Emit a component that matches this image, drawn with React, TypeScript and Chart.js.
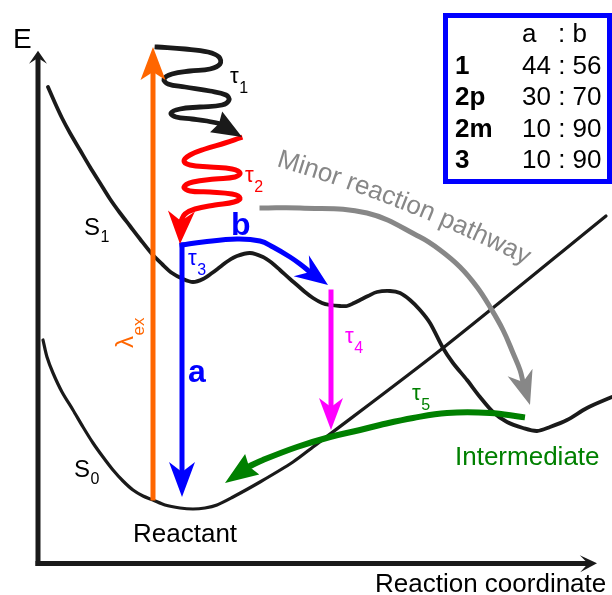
import { useEffect, useRef } from "react";
import { Chart, registerables } from "chart.js";

Chart.register(...registerables);

// ---------- data (reaction coordinate, energy) ----------
const s1Curve: number[][] = [
  [1.0, 47.5], [1.7, 45.9], [2.4, 44.4], [3.2, 42.9], [4.2, 41.2], [5.2, 39.5], [6.2, 37.9],
  [7.2, 36.3], [8.2, 34.9], [9.2, 33.6], [10.2, 32.3], [11.4, 30.8], [12.4, 29.8], [13.4, 28.9],
  [14.5, 28.3], [15.5, 28.0], [16.5, 28.3], [17.4, 28.9], [18.2, 29.5], [19.0, 30.1], [19.9, 30.6],
  [21.2, 30.9], [22.5, 30.5], [23.4, 29.9], [24.2, 29.2], [25.2, 28.3], [25.9, 27.7], [26.7, 27.0],
  [27.5, 26.4], [28.4, 25.9], [29.2, 25.7], [30.2, 25.6], [30.9, 25.6], [31.6, 25.9], [32.2, 26.2],
  [33.0, 26.6], [33.9, 27.0], [35.2, 27.1], [36.2, 26.9], [37.2, 26.2], [38.2, 25.2], [39.2, 23.9],
  [40.5, 21.4], [41.5, 19.9], [42.9, 18.2], [44.2, 16.5], [45.5, 15.0], [46.9, 14.0], [48.5, 13.4],
  [49.9, 13.1], [51.2, 13.5], [52.9, 14.2], [54.9, 15.4], [57.4, 16.5],
];
const s0Curve: number[][] = [
  [0.5, 22.2], [0.9, 20.5], [1.5, 18.9], [2.4, 17.0], [3.5, 15.2], [4.5, 13.5], [5.5, 11.9],
  [6.5, 10.5], [7.5, 9.2], [8.5, 8.1], [9.5, 7.2], [10.5, 6.6], [11.5, 6.2], [12.7, 5.7],
  [14.2, 5.4], [15.5, 5.3], [16.7, 5.4], [17.9, 5.7], [19.5, 6.5], [22.2, 8.0], [25.5, 10.0],
  [27.5, 11.5], [40.5, 21.4], [56.8, 34.6],
];

// arrows: shaft points and tip
const energyAxis: number[][] = [[0, -0.15], [0, 50.4]];
const energyAxisTip = [0, 51.13];
const coordAxis: number[][] = [[0, -0.15], [55.0, -0.15]];
const coordAxisTip = [55.9, -0.13];
const excitation: number[][] = [[11.5, 6.4], [11.5, 49.0]];
const excitationTip = [11.5, 51.5];
const relaxTau1: number[][] = [
  [11.9, 51.5], [14.7, 51.3], [17.0, 51.0], [18.1, 50.5], [18.2, 49.8], [17.2, 49.3], [15.2, 49.1],
  [13.4, 48.8], [12.6, 48.3], [13.0, 47.8], [14.7, 47.5], [17.2, 47.1], [18.8, 46.7], [19.1, 46.2],
  [18.4, 45.7], [16.2, 45.5], [14.2, 45.3], [13.3, 44.9], [13.8, 44.5], [15.4, 44.3], [16.9, 44.1],
  [18.1, 43.85],
];
const relaxTau1Tip = [20.4, 42.5];
const relaxTau2: number[][] = [
  [20.2, 42.4], [18.7, 41.9], [16.7, 41.3], [15.2, 40.7], [14.6, 40.1], [15.2, 39.7], [17.2, 39.5],
  [19.4, 39.3], [20.2, 38.9], [19.7, 38.5], [17.7, 38.3], [15.5, 38.0], [14.6, 37.5], [15.2, 37.1],
  [17.2, 37.0], [19.4, 36.8], [20.2, 36.4], [19.6, 36.0], [17.7, 35.7], [15.7, 35.3], [14.7, 34.8],
  [14.3, 34.1],
];
const relaxTau2Tip = [14.2, 31.8];
const pathA: number[][] = [[14.4, 31.7], [14.4, 9.0]];
const pathATip = [14.4, 6.5];
const pathB: number[][] = [
  [14.4, 31.7], [16.5, 32.0], [19.9, 32.3], [22.2, 32.1], [23.5, 31.5], [25.2, 30.5], [26.2, 29.8], [27.2, 29.0],
];
const pathBTip = [29.0, 27.7];
const decayTau4: number[][] = [[29.3, 27.0], [29.3, 15.5]];
const decayTau4Tip = [29.3, 13.2];
const returnTau5: number[][] = [
  [48.4, 14.5], [45.2, 14.9], [40.9, 14.9], [37.5, 14.4], [34.2, 13.7], [32.2, 13.2], [29.2, 12.5],
  [25.9, 11.5], [22.5, 10.2], [21.1, 9.55],
];
const returnTau5Tip = [18.7, 7.9];
const minorPath: number[][] = [
  [22.4, 35.4], [26.2, 35.4], [32.9, 34.9], [38.2, 32.5], [40.2, 31.2], [42.2, 29.5], [43.9, 27.5],
  [45.2, 25.5], [46.5, 23.2], [47.5, 20.9], [48.2, 19.2], [48.5, 18.0],
];
const minorPathTip = [49.2, 15.7];

// table
const compounds = ["1", "2p", "2m", "3"];
const ratioA = [44, 30, 10, 10];
const ratioB = [56, 70, 90, 90];

// ---------- styles ----------
const FONT = '"Liberation Sans", Arial, Helvetica, sans-serif';
const BLACK = "#1a1a1a";
const ORANGE = "#ff6600";
const RED = "#ff0000";
const BLUE = "#0000ff";
const MAGENTA = "#ff00ff";
const GREEN = "#008000";
const GRAY = "#878787";

type Arrow = { shaft: number[][]; tip: number[]; color: string; width: number; len: number; halfW: number; tension: number };
const arrows: Arrow[] = [
  { shaft: energyAxis, tip: energyAxisTip, color: BLACK, width: 5, len: 13, halfW: 9, tension: 0 },
  { shaft: coordAxis, tip: coordAxisTip, color: BLACK, width: 5, len: 17, halfW: 8.5, tension: 0 },
  { shaft: excitation, tip: excitationTip, color: ORANGE, width: 5, len: 33, halfW: 12.5, tension: 0 },
  { shaft: relaxTau1, tip: relaxTau1Tip, color: BLACK, width: 4.8, len: 30, halfW: 12, tension: 0.4 },
  { shaft: relaxTau2, tip: relaxTau2Tip, color: RED, width: 5, len: 33, halfW: 13.5, tension: 0.4 },
  { shaft: pathA, tip: pathATip, color: BLUE, width: 5, len: 35, halfW: 13, tension: 0 },
  { shaft: pathB, tip: pathBTip, color: BLUE, width: 5, len: 33, halfW: 13, tension: 0.4 },
  { shaft: decayTau4, tip: decayTau4Tip, color: MAGENTA, width: 5, len: 32, halfW: 12, tension: 0 },
  { shaft: returnTau5, tip: returnTau5Tip, color: GREEN, width: 6, len: 33, halfW: 12.5, tension: 0.4 },
  { shaft: minorPath, tip: minorPathTip, color: GRAY, width: 5, len: 34, halfW: 13, tension: 0.4 },
];

type Label = { text: string; x: number; y: number; size: number; color: string; bold?: boolean; sub?: string; subSize?: number; subDy?: number; rotate?: boolean };
const labels: Label[] = [
  { text: "E", x: -2.5, y: 51.4, size: 28, color: "#000" },
  { text: "Reaction coordinate", x: 33.7, y: -3.0, size: 26, color: "#000" },
  { text: "Reactant", x: 9.5, y: 2.0, size: 26, color: "#000" },
  { text: "Intermediate", x: 41.7, y: 9.7, size: 26, color: GREEN },
  { text: "S", x: 4.6, y: 32.7, size: 24, color: "#000", sub: "1", subSize: 16, subDy: 7 },
  { text: "S", x: 3.6, y: 8.5, size: 24, color: "#000", sub: "0", subSize: 16, subDy: 7 },
  { text: "τ", x: 19.2, y: 47.9, size: 22, color: "#000", sub: "1", subSize: 16, subDy: 10 },
  { text: "τ", x: 20.7, y: 38.0, size: 22, color: RED, sub: "2", subSize: 16, subDy: 10 },
  { text: "τ", x: 15.0, y: 29.7, size: 22, color: BLUE, sub: "3", subSize: 16, subDy: 10 },
  { text: "τ", x: 30.7, y: 21.9, size: 22, color: MAGENTA, sub: "4", subSize: 16, subDy: 10 },
  { text: "τ", x: 37.4, y: 16.2, size: 22, color: GREEN, sub: "5", subSize: 16, subDy: 10 },
  { text: "a", x: 15.0, y: 18.0, size: 32, color: BLUE, bold: true },
  { text: "b", x: 19.3, y: 32.7, size: 32, color: BLUE, bold: true },
  { text: "λ", x: 9.5, y: 21.4, size: 24, color: ORANGE, sub: "ex", subSize: 17, subDy: 11, rotate: true },
];

const arcText = { text: "Minor reaction pathway", x: 23.8, y: 39.6, startDeg: 16.5, radius: 1500, size: 26, color: GRAY };

const table = {
  left: 40.75, top: 54.65, right: 57.15, bottom: 38.05,
  labelX: 41.7, valueX: 48.4, colonX: 52.0,
  headerY: 52.0, rowY: [48.85, 45.7, 42.55, 39.4],
};

const pts = (a: number[][]) => a.map(([x, y]) => ({ x, y }));

const diagramPlugin = {
  id: "diagram",
  afterDatasetsDraw(chart: any) {
    const ctx: CanvasRenderingContext2D = chart.ctx;
    const xs = chart.scales.x;
    const ys = chart.scales.y;
    const px = (x: number) => xs.getPixelForValue(x);
    const py = (y: number) => ys.getPixelForValue(y);

    // arrowheads
    for (const a of arrows) {
      const last = a.shaft[a.shaft.length - 1];
      const nx = px(last[0]), ny = py(last[1]);
      const tx = px(a.tip[0]), ty = py(a.tip[1]);
      let ux = tx - nx, uy = ty - ny;
      const d = Math.hypot(ux, uy) || 1;
      ux /= d; uy /= d;
      const bx = tx - ux * a.len, by = ty - uy * a.len;
      const vx = -uy, vy = ux;
      ctx.save();
      ctx.fillStyle = a.color;
      ctx.beginPath();
      ctx.moveTo(tx, ty);
      ctx.lineTo(bx + vx * a.halfW, by + vy * a.halfW);
      ctx.lineTo(nx, ny);
      ctx.lineTo(bx - vx * a.halfW, by - vy * a.halfW);
      ctx.closePath();
      ctx.fill();
      ctx.restore();
    }

    // labels
    for (const l of labels) {
      ctx.save();
      ctx.fillStyle = l.color;
      ctx.textBaseline = "alphabetic";
      ctx.textAlign = "left";
      ctx.translate(px(l.x), py(l.y));
      if (l.rotate) ctx.rotate(-Math.PI / 2);
      ctx.font = `${l.bold ? "bold " : ""}${l.size}px ${FONT}`;
      ctx.fillText(l.text, 0, 0);
      if (l.sub) {
        const w = ctx.measureText(l.text).width;
        ctx.font = `${l.subSize}px ${FONT}`;
        ctx.fillText(l.sub, w + 0.5, l.subDy || 0);
      }
      ctx.restore();
    }

    // curved text
    {
      ctx.save();
      ctx.font = `${arcText.size}px ${FONT}`;
      ctx.fillStyle = arcText.color;
      ctx.textAlign = "center";
      ctx.textBaseline = "alphabetic";
      const t0 = (arcText.startDeg * Math.PI) / 180;
      const r = arcText.radius;
      const x0 = px(arcText.x), y0 = py(arcText.y);
      const cx = x0 - r * Math.sin(t0), cy = y0 + r * Math.cos(t0);
      let s = 0;
      for (const ch of arcText.text) {
        const w = ctx.measureText(ch).width;
        const th = t0 + (s + w / 2) / r;
        ctx.save();
        ctx.translate(cx + r * Math.sin(th), cy - r * Math.cos(th));
        ctx.rotate(th);
        ctx.fillText(ch, 0, 0);
        ctx.restore();
        s += w;
      }
      ctx.restore();
    }

    // table
    {
      ctx.save();
      ctx.strokeStyle = BLUE;
      ctx.lineWidth = 5;
      const l = px(table.left), t = py(table.top), r = px(table.right), b = py(table.bottom);
      ctx.strokeRect(l, t, r - l, b - t);
      ctx.fillStyle = "#000";
      ctx.textAlign = "left";
      ctx.textBaseline = "alphabetic";
      ctx.font = `26px ${FONT}`;
      ctx.fillText("a", px(table.valueX), py(table.headerY));
      ctx.fillText(": b", px(table.colonX), py(table.headerY));
      compounds.forEach((c, i) => {
        ctx.font = `bold 26px ${FONT}`;
        ctx.fillText(c, px(table.labelX), py(table.rowY[i]));
        ctx.font = `26px ${FONT}`;
        ctx.fillText(`${ratioA[i]} : ${ratioB[i]}`, px(table.valueX), py(table.rowY[i]));
      });
      ctx.restore();
    }
  },
};

export default function App() {
  const ref = useRef<HTMLCanvasElement | null>(null);
  useEffect(() => {
    document.body.style.margin = "0";
    const canvas = ref.current;
    if (!canvas) return;
    const line = (data: number[][], color: string, width: number, tension: number, order: number, cap: CanvasLineCap = "butt") => ({
      data: pts(data),
      showLine: true,
      borderColor: color,
      backgroundColor: color,
      borderWidth: width,
      pointRadius: 0,
      pointHoverRadius: 0,
      tension,
      fill: false,
      clip: false as any,
      borderCapStyle: cap,
      borderJoinStyle: "round" as CanvasLineJoin,
      order,
    });
    const datasets: any[] = [
      line(s1Curve, BLACK, 3.8, 0.3, 5, "round"),
      line(s0Curve, BLACK, 3.2, 0.3, 5, "round"),
      ...arrows.map((a) => line(a.shaft, a.color, a.width, a.tension, 1, "square")),
    ];
    const chart = new Chart(canvas, {
      type: "scatter",
      data: { datasets },
      options: {
        animation: false,
        responsive: false,
        maintainAspectRatio: false,
        events: [],
        devicePixelRatio: 1,
        layout: { padding: 0 },
        plugins: { legend: { display: false }, tooltip: { enabled: false } },
        scales: {
          x: { type: "linear", display: false, min: -3.8, max: 57.4 },
          y: { type: "linear", display: false, min: -3.3, max: 56.2 },
        },
      },
      plugins: [diagramPlugin],
    });
    return () => chart.destroy();
  }, []);
  return (
    <div style={{ width: 612, height: 595, background: "#fff" }}>
      <canvas ref={ref} width={612} height={595} style={{ display: "block" }} />
    </div>
  );
}
